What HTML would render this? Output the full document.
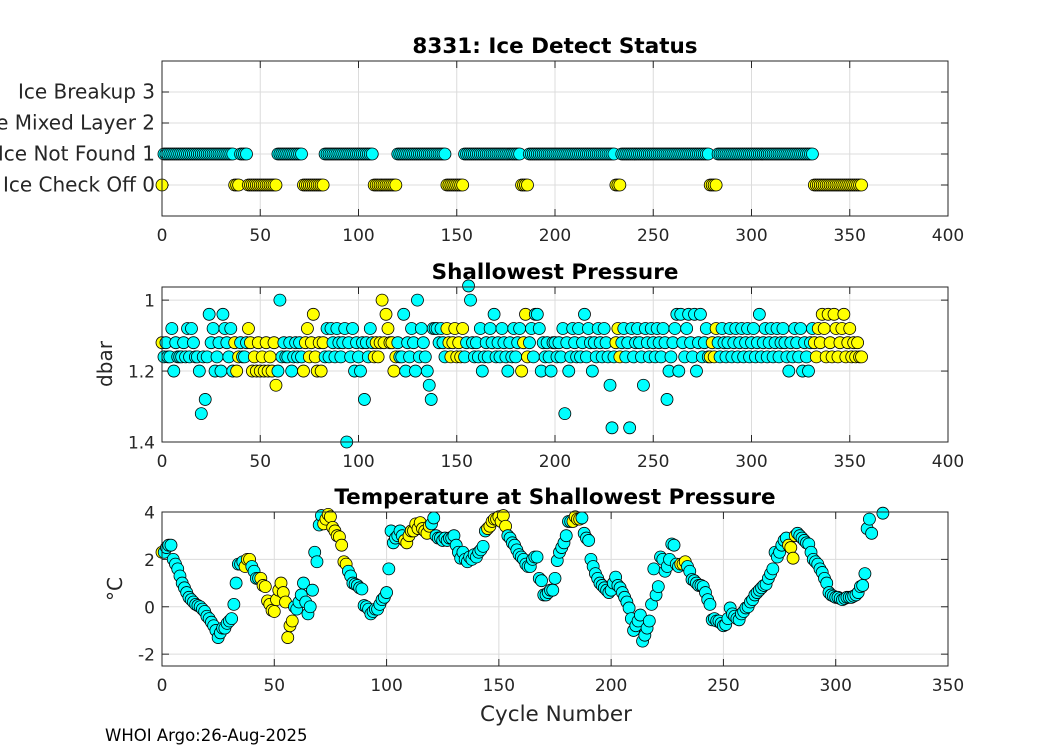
<!DOCTYPE html>
<html><head><meta charset="utf-8"><style>
body{margin:0;background:#fff;}
svg{display:block;font-family:"DejaVu Sans","Liberation Sans",sans-serif;}
</style></head><body>
<svg id="chart" width="1050" height="750" viewBox="0 0 1050 750" xmlns="http://www.w3.org/2000/svg">
<rect width="1050" height="750" fill="#fff"/>
</svg>
<script>
// Ice status runs: [firstCycle, lastCycle, status]
const statusRuns = [[0,0,0],[1,36,1],[37,39,0],[40,43,1],[44,58,0],[59,71,1],[72,82,0],[83,107,1],[108,119,0],[120,144,1],[145,153,0],[154,182,1],[183,186,0],[187,230,1],[231,233,0],[234,278,1],[279,282,0],[283,331,1],[332,356,0]];
const pressureVals = [
1.12,1.16,1.12,1.16,1.16,1.08,1.2,1.12,1.16,1.16,1.16,1.12,1.16,1.08,1.16,1.08,1.12,1.16,1.16,1.2,
1.32,1.16,1.28,1.16,1.04,1.12,1.08,1.2,1.16,1.12,1.2,1.04,1.08,1.12,1.16,1.08,1.2,1.12,1.2,1.16,
1.12,1.16,1.16,1.12,1.08,1.12,1.2,1.16,1.2,1.12,1.2,1.16,1.2,1.12,1.2,1.16,1.2,1.12,1.24,1.2,
1.0,1.16,1.12,1.16,1.16,1.12,1.2,1.16,1.12,1.16,1.12,1.16,1.2,1.12,1.08,1.16,1.12,1.04,1.16,1.2,
1.12,1.2,1.12,1.16,1.08,1.16,1.08,1.12,1.16,1.08,1.12,1.16,1.12,1.08,1.4,1.12,1.16,1.08,1.2,1.12,
1.16,1.2,1.12,1.28,1.12,1.16,1.08,1.12,1.16,1.12,1.16,1.12,1.0,1.12,1.04,1.08,1.12,1.12,1.2,1.16,
1.12,1.16,1.16,1.04,1.2,1.12,1.16,1.08,1.12,1.2,1.0,1.16,1.08,1.12,1.16,1.2,1.24,1.28,1.08,1.08,
1.08,1.12,1.08,1.12,1.16,1.08,1.12,1.16,1.12,1.08,1.16,1.12,1.16,1.08,1.16,1.12,0.96,1.0,1.12,1.16,
1.12,1.16,1.08,1.2,1.16,1.12,1.16,1.08,1.12,1.04,1.16,1.12,1.16,1.08,1.12,1.16,1.2,1.12,1.16,1.08,
1.16,1.12,1.08,1.2,1.12,1.04,1.16,1.12,1.08,1.16,1.04,1.04,1.08,1.2,1.12,1.16,1.12,1.16,1.2,1.12,
1.12,1.16,1.12,1.16,1.08,1.32,1.12,1.2,1.16,1.08,1.12,1.16,1.08,1.16,1.12,1.04,1.16,1.08,1.12,1.2,
1.12,1.16,1.08,1.12,1.16,1.08,1.12,1.16,1.24,1.36,1.16,1.12,1.08,1.16,1.12,1.08,1.16,1.12,1.36,1.08,
1.16,1.12,1.08,1.12,1.16,1.24,1.08,1.12,1.16,1.08,1.12,1.16,1.08,1.12,1.16,1.08,1.12,1.28,1.2,1.16,
1.12,1.08,1.04,1.2,1.04,1.12,1.16,1.08,1.04,1.12,1.16,1.04,1.2,1.12,1.04,1.16,1.12,1.08,1.16,1.16,
1.12,1.16,1.08,1.12,1.16,1.08,1.12,1.16,1.12,1.08,1.16,1.12,1.08,1.16,1.12,1.08,1.16,1.12,1.08,1.16,
1.12,1.08,1.16,1.12,1.04,1.16,1.12,1.08,1.16,1.12,1.08,1.16,1.12,1.08,1.16,1.12,1.08,1.12,1.16,1.2,
1.12,1.16,1.08,1.12,1.16,1.08,1.2,1.12,1.16,1.2,1.12,1.08,1.12,1.16,1.08,1.12,1.04,1.08,1.16,1.04,
1.12,1.16,1.04,1.08,1.16,1.12,1.08,1.04,1.16,1.12,1.08,1.16,1.12,1.16,1.12,1.16,1.16];
const tempVals = [
2.3,2.3,2.5,2.6,2.6,2.0,1.8,1.6,1.3,1.0,0.8,0.6,0.4,0.3,0.2,0.1,0.05,0.0,-0.1,-0.2,
-0.4,-0.5,-0.65,-0.8,-1.0,-1.3,-1.1,-0.9,-0.9,-0.7,-0.6,-0.5,0.1,1.0,1.8,1.8,1.9,1.7,2.0,2.0,
1.7,1.5,1.2,1.2,1.2,0.9,0.85,0.25,0.1,-0.15,-0.2,0.3,0.7,1.0,0.6,0.2,-1.3,-0.8,-0.6,0.0,
-0.1,0.2,0.5,1.0,0.2,-0.3,0.0,0.7,2.3,1.9,3.45,3.85,3.5,3.7,3.9,3.8,3.35,3.2,3.0,2.95,
2.6,1.9,1.8,1.5,1.3,1.0,0.95,0.9,0.8,0.75,0.05,0.0,-0.1,-0.3,-0.2,-0.1,-0.1,0.1,0.3,0.4,
0.6,1.6,3.2,2.7,2.9,3.0,3.2,3.0,2.8,2.7,3.0,3.2,3.2,3.5,3.3,3.55,3.3,3.2,3.1,3.4,
3.5,3.75,3.0,2.9,2.9,2.8,2.9,2.8,2.9,2.9,3.0,2.6,2.3,2.05,2.3,2.0,1.9,2.1,2.0,2.2,
2.1,2.3,2.4,2.55,3.2,3.3,3.4,3.6,3.7,3.7,3.8,3.6,3.85,3.4,3.0,2.9,2.7,2.6,2.4,2.2,
2.1,2.0,1.8,1.7,1.7,2.0,2.1,2.1,1.2,1.1,0.5,0.5,0.6,0.7,0.7,1.2,1.95,2.3,2.5,2.7,
3.0,3.6,3.6,3.6,3.8,3.7,3.7,3.75,3.1,2.9,2.8,2.0,1.7,1.4,1.2,1.0,0.9,0.8,0.7,0.6,
0.7,1.0,1.25,0.9,0.8,0.6,0.4,0.2,-0.05,-0.5,-1.0,-0.8,-0.6,-0.35,-1.45,-1.2,-0.9,-0.6,0.1,1.6,
0.5,0.85,2.1,2.0,1.5,1.7,2.0,2.65,2.6,1.8,1.7,1.8,1.8,1.9,1.7,1.5,1.15,1.1,1.0,0.9,
0.9,0.85,0.6,0.3,0.1,-0.55,-0.5,-0.6,-0.6,-0.7,-0.8,-0.75,-0.5,-0.05,-0.3,-0.4,-0.5,-0.55,-0.3,-0.2,
-0.05,0.0,0.2,0.3,0.5,0.6,0.7,0.8,0.9,0.95,1.2,1.4,1.6,2.3,2.1,2.3,2.6,2.8,2.9,2.6,
2.5,2.05,3.0,3.1,3.0,2.9,2.8,2.7,2.65,2.3,2.0,1.9,1.8,1.6,1.45,1.2,1.0,0.6,0.5,0.45,
0.4,0.4,0.35,0.3,0.35,0.4,0.4,0.4,0.45,0.5,0.6,0.85,0.9,1.4,3.3,3.7,3.1];
const tempExtraCycles = [321];
const tempExtraVals = [3.95];
const xTicks1 = [0,50,100,150,200,250,300,350,400];
const xTicks3 = [0,50,100,150,200,250,300,350];
const pTicks = [1,1.2,1.4];
const tTicks = [-2,0,2,4];
const sTicks = [0,1,2,3];

const svg = document.getElementById('chart');
const NS = 'http://www.w3.org/2000/svg';
function mk(tag, attrs, parent){const e=document.createElementNS(NS,tag);for(const k in attrs)e.setAttribute(k,attrs[k]);(parent||svg).appendChild(e);return e;}
const L=162,R=948;
const panels = [
 {top:61,bot:216,xmax:400,ymin:-1,ymax:4,rev:false,title:'8331: Ice Detect Status',name:'ice-status-panel',yfs:20},
 {top:287,bot:442,xmax:400,ymin:0.963,ymax:1.4,rev:true,title:'Shallowest Pressure',name:'pressure-panel',yfs:17},
 {top:512,bot:666,xmax:350,ymin:-2.5,ymax:4,rev:false,title:'Temperature at Shallowest Pressure',name:'temperature-panel',yfs:17}];
panels.forEach(p=>{
 p.sx=v=>L+(v/p.xmax)*(R-L);
 p.sy=v=>p.rev? p.top+(v-p.ymin)/(p.ymax-p.ymin)*(p.bot-p.top) : p.bot-(v-p.ymin)/(p.ymax-p.ymin)*(p.bot-p.top);
});
function status(c){for(const r of statusRuns){if(c>=r[0]&&c<=r[1])return r[2];}return 1;}

function drawAxes(p, xt, yt, ylabFn){
 const g=mk('g',{});
 
 
 mk('rect',{x:L,y:p.top,width:R-L,height:p.bot-p.top,fill:'#fff'},g);
 xt.forEach(v=>{const x=p.sx(v);
  const gl=mk('line',{x1:x,x2:x,y1:p.top,y2:p.bot,stroke:'#dcdcdc','stroke-width':1},g);
  
  mk('line',{x1:x,x2:x,y1:p.bot,y2:p.bot-7,stroke:'#262626'},g);
  mk('line',{x1:x,x2:x,y1:p.top,y2:p.top+7,stroke:'#262626'},g);
  const t=mk('text',{x:x,y:p.bot+25,'text-anchor':'middle','font-size':17,fill:'#262626'},g);t.textContent=v;
  });
 yt.forEach(v=>{const y=p.sy(v);
  const gl=mk('line',{x1:L,x2:R,y1:y,y2:y,stroke:'#dcdcdc','stroke-width':1},g);
  
  mk('line',{x1:L,x2:L+7,y1:y,y2:y,stroke:'#262626'},g);
  mk('line',{x1:R,x2:R-7,y1:y,y2:y,stroke:'#262626'},g);
  const t=mk('text',{x:L-7,y:y+6.5,'text-anchor':'end','font-size':p.yfs,fill:'#262626'},g);t.textContent=ylabFn(v);
  });
 const tt=mk('text',{x:(L+R)/2,y:p.top-8,'text-anchor':'middle','font-size':21.5,'font-weight':'bold',fill:'#000'},g);tt.textContent=p.title;
 
 p.g=g;
}
function drawBox(p){mk('rect',{x:L,y:p.top,width:R-L,height:p.bot-p.top,fill:'none',stroke:'#262626','stroke-width':1},p.g);}
function dot(p,x,y,col){const c=mk('circle',{cx:p.sx(x),cy:p.sy(y),r:6,fill:col?'#00ffff':'#ffff00',stroke:'#000','stroke-width':0.8},p.g);
 
 }

const labels={0:'Ice Check Off 0',1:'Ice Not Found 1',2:'Ice Mixed Layer 2',3:'Ice Breakup 3'};
drawAxes(panels[0],xTicks1,sTicks,v=>labels[v]);
for(let c=0;c<pressureVals.length;c++){const s=status(c);dot(panels[0],c,s,s===1);}
drawBox(panels[0]);
drawAxes(panels[1],xTicks1,pTicks,v=>v);
for(let c=0;c<pressureVals.length;c++){dot(panels[1],c,pressureVals[c],status(c)===1);}
drawBox(panels[1]);
drawAxes(panels[2],xTicks3,tTicks,v=>v);
for(let c=0;c<tempVals.length;c++){dot(panels[2],c,tempVals[c],status(c)===1);}
for(let i=0;i<tempExtraCycles.length;i++){dot(panels[2],tempExtraCycles[i],tempExtraVals[i],status(tempExtraCycles[i])===1);}
drawBox(panels[2]);

let t=mk('text',{x:0,y:0,'font-size':20,fill:'#262626','text-anchor':'middle',transform:'translate(112,364) rotate(-90)'});t.textContent='dbar';

t=mk('text',{x:0,y:0,'font-size':20,fill:'#262626','text-anchor':'middle',transform:'translate(122,589) rotate(-90)'});t.textContent='°C';

t=mk('text',{x:556,y:721,'font-size':21.5,fill:'#262626','text-anchor':'middle'});t.textContent='Cycle Number';

t=mk('text',{x:105,y:741,'font-size':16.5,fill:'#000'});t.textContent='WHOI Argo:26-Aug-2025';

</script>
</body></html>
